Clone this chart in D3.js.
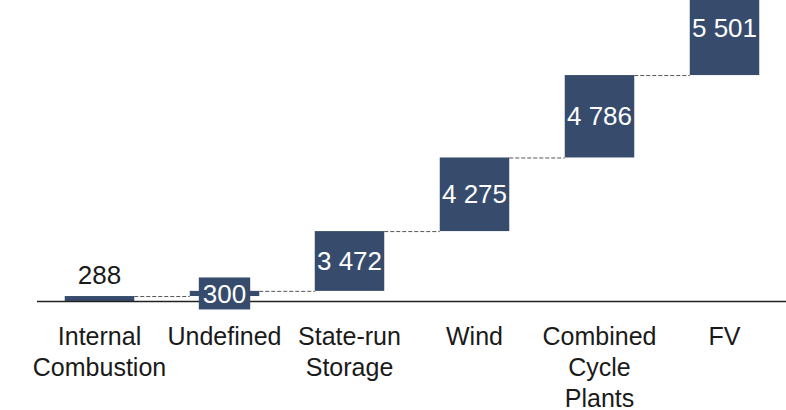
<!DOCTYPE html>
<html>
<head>
<meta charset="utf-8">
<script src="https://cdn.jsdelivr.net/npm/d3@7"></script>
<style>
  html, body { margin: 0; padding: 0; background: #fff; }
  svg { display: block; font-family: "Liberation Sans", Arial, sans-serif; }
</style>
</head>
<body>
<svg width="786" height="410"></svg>
<script>
const svg = d3.select("svg");

// data
const categories = ["Internal Combustion", "Undefined", "State-run Storage", "Wind", "Combined Cycle Plants", "FV"];
const values = [288, 300, 3472, 4275, 4786, 5501];
const tickLabels = [["Internal", "Combustion"], ["Undefined"], ["State-run", "Storage"], ["Wind"], ["Combined", "Cycle", "Plants"], ["FV"]];

const barColor = "#374c6c";
const fmt = d3.formatLocale({decimal: ".", thousands: " ", grouping: [3], currency: ["", ""]}).format(",d");

// running totals for the waterfall
let run = 0;
const steps = values.map((v, i) => {
  const start = run;
  run += v;
  return {cat: categories[i], value: v, start: start, end: run, lines: tickLabels[i]};
});

const x = d3.scaleBand()
  .domain(categories)
  .range([37, 787])
  .paddingInner(0.444)
  .paddingOuter(0.222);

// top bar runs past the top edge, like in the source
const y = d3.scaleLinear().domain([0, 17480]).range([301, 0]);

// dashed connectors between bars
svg.append("g")
  .selectAll("line")
  .data(steps.slice(0, -1))
  .join("line")
  .attr("x1", d => x(d.cat) + x.bandwidth())
  .attr("x2", (d, i) => x(steps[i + 1].cat))
  .attr("y1", d => y(d.end) + 0.5)
  .attr("y2", d => y(d.end) + 0.5)
  .attr("stroke", "#555")
  .attr("stroke-width", 1)
  .attr("stroke-dasharray", "4,2");

svg.append("g")
  .selectAll("rect")
  .data(steps)
  .join("rect")
  .attr("x", d => x(d.cat))
  .attr("width", x.bandwidth())
  .attr("y", d => y(d.end))
  .attr("height", d => y(d.start) - y(d.end))
  .attr("fill", barColor);

// baseline
svg.append("line")
  .attr("x1", 37).attr("x2", 786)
  .attr("y1", y(0) + 0.5).attr("y2", y(0) + 0.5)
  .attr("stroke", "#222")
  .attr("stroke-width", 1.6);

// value labels
const labels = svg.append("g");
steps.forEach((d, i) => {
  const cx = x(d.cat) + x.bandwidth() / 2;
  const mid = (y(d.start) + y(d.end)) / 2;
  if (i === 0) {
    // too thin: label sits above
    labels.append("text")
      .attr("x", cx).attr("y", y(d.end) - 12)
      .attr("text-anchor", "middle")
      .attr("font-size", 26)
      .attr("fill", "#1a1a1a")
      .text(fmt(d.value));
  } else {
    const t = labels.append("text")
      .attr("x", cx).attr("y", mid)
      .attr("dy", "0.35em")
      .attr("text-anchor", "middle")
      .attr("font-size", 26)
      .attr("fill", "#fff")
      .text(fmt(d.value));
    if (i === 1) {
      // thin bar gets a filled box behind its label
      const b = t.node().getBBox();
      labels.insert("rect", "text")
        .attr("x", b.x - 4).attr("y", mid - 16)
        .attr("width", b.width + 8).attr("height", 32)
        .attr("fill", barColor);
    }
  }
});

// category labels
const ticks = svg.append("g")
  .selectAll("text")
  .data(steps)
  .join("text")
  .attr("x", d => x(d.cat) + x.bandwidth() / 2)
  .attr("y", 345)
  .attr("text-anchor", "middle")
  .attr("font-size", 25)
  .attr("fill", "#1a1a1a");

ticks.selectAll("tspan")
  .data(d => d.lines)
  .join("tspan")
  .attr("x", function() { return this.parentNode.getAttribute("x"); })
  .attr("dy", (d, i) => i === 0 ? 0 : 31)
  .text(d => d);
</script>
</body>
</html>
